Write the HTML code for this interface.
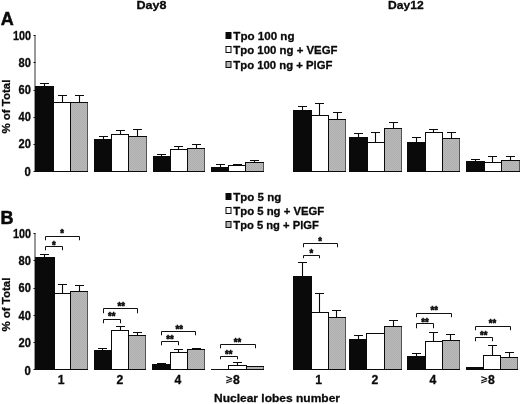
<!DOCTYPE html>
<html lang="en"><head><meta charset="utf-8"><title>Nuclear lobes number</title>
<style>
html,body{margin:0;padding:0;background:#fff}
body{width:520px;height:404px;overflow:hidden}
svg{display:block;will-change:transform}
text{font-family:"Liberation Sans",sans-serif;font-weight:bold;fill:#0a0a0a;stroke:#0a0a0a;stroke-width:.3px;stroke-linejoin:round}
.t{font-size:11.5px}
.p{font-size:18px;stroke-width:.5px}
.n{font-size:12px}
.tk{fill:none;stroke:#111;stroke-width:1}
.q{font-family:"DejaVu Sans","Liberation Sans",sans-serif;font-size:9.5px;stroke:none}
.x{font-size:12.2px}
.s{font-size:10px;text-anchor:middle;stroke-width:.6px}
.m{text-anchor:middle}
.r{text-anchor:end}
.k{fill:#0a0a0a;stroke:#0a0a0a;stroke-width:1}
.w{fill:#fff;stroke:#0a0a0a;stroke-width:1}
.g{fill:url(#ht);stroke:#0a0a0a;stroke-width:1}
.e{fill:none;stroke:#0a0a0a;stroke-width:1.1}
.b{fill:none;stroke:#111;stroke-width:1}
.rb{fill:none;stroke:#555;stroke-width:1}
.a{fill:none;stroke:#333;stroke-width:1}
</style></head><body>
<svg width="520" height="404" viewBox="0 0 520 404">
<defs><pattern id="ht" width="2" height="2" patternUnits="userSpaceOnUse"><rect width="2" height="2" fill="#bbbbbb"/><rect width="1" height="1" fill="#adadad"/><rect x="1" y="1" width="1" height="1" fill="#adadad"/></pattern></defs>
<rect width="520" height="404" fill="#fff"/>
<text class="t" x="136.5" y="9.3" textLength="30" lengthAdjust="spacingAndGlyphs">Day8</text>
<text class="t" x="388" y="9.3" textLength="35.6" lengthAdjust="spacingAndGlyphs">Day12</text>
<text class="p" x="0.8" y="25.2">A</text>
<text class="p" x="0.4" y="223.8">B</text>
<path class="a" d="M35 35.2V171.5"/>
<path class="tk" d="M33.5 35.5H35.5M33.5 62.5H35.5M33.5 90.5H35.5M33.5 117.5H35.5M33.5 144.5H35.5M33.5 171.5H35.5"/>
<text class="n r" x="30.9" y="39.5" textLength="18" lengthAdjust="spacingAndGlyphs">100</text>
<text class="n r" x="30.9" y="66.73" textLength="12.4" lengthAdjust="spacingAndGlyphs">80</text>
<text class="n r" x="30.9" y="93.96" textLength="12.4" lengthAdjust="spacingAndGlyphs">60</text>
<text class="n r" x="30.9" y="121.19" textLength="12.4" lengthAdjust="spacingAndGlyphs">40</text>
<text class="n r" x="30.9" y="148.42" textLength="12.4" lengthAdjust="spacingAndGlyphs">20</text>
<text class="n r" x="30.9" y="175.65" textLength="6.3" lengthAdjust="spacingAndGlyphs">0</text>
<text class="t m" transform="translate(10.3 106.6) rotate(-90)" textLength="54" lengthAdjust="spacingAndGlyphs">% of Total</text>
<path class="a" d="M35 233.2V369.5"/>
<path class="tk" d="M33.5 233.5H35.5M33.5 260.5H35.5M33.5 288.5H35.5M33.5 315.5H35.5M33.5 342.5H35.5M33.5 369.5H35.5"/>
<text class="n r" x="30.9" y="237.7" textLength="18" lengthAdjust="spacingAndGlyphs">100</text>
<text class="n r" x="30.9" y="265.06" textLength="12.4" lengthAdjust="spacingAndGlyphs">80</text>
<text class="n r" x="30.9" y="292.42" textLength="12.4" lengthAdjust="spacingAndGlyphs">60</text>
<text class="n r" x="30.9" y="319.78" textLength="12.4" lengthAdjust="spacingAndGlyphs">40</text>
<text class="n r" x="30.9" y="347.14" textLength="12.4" lengthAdjust="spacingAndGlyphs">20</text>
<text class="n r" x="30.9" y="374.5" textLength="6.3" lengthAdjust="spacingAndGlyphs">0</text>
<text class="t m" transform="translate(10.3 304.6) rotate(-90)" textLength="54" lengthAdjust="spacingAndGlyphs">% of Total</text>
<rect class="k" x="226" y="32.5" width="5" height="6"/>
<text class="t" x="233.3" y="39.5" textLength="61.2" lengthAdjust="spacingAndGlyphs">Tpo 100 ng</text>
<rect class="w" x="226" y="46.5" width="5" height="6"/>
<text class="t" x="233.3" y="54.1" textLength="104.2" lengthAdjust="spacingAndGlyphs">Tpo 100 ng + VEGF</text>
<rect class="g" x="226" y="61.5" width="5" height="6"/>
<text class="t" x="233.3" y="68.7" textLength="99.2" lengthAdjust="spacingAndGlyphs">Tpo 100 ng + PlGF</text>
<rect class="k" x="226" y="193.5" width="5" height="6"/>
<text class="t" x="233.3" y="200.9" textLength="48" lengthAdjust="spacingAndGlyphs">Tpo 5 ng</text>
<rect class="w" x="226" y="207.5" width="5" height="6"/>
<text class="t" x="233.3" y="214.8" textLength="91" lengthAdjust="spacingAndGlyphs">Tpo 5 ng + VEGF</text>
<rect class="g" x="226" y="221.5" width="5" height="6"/>
<text class="t" x="233.3" y="228.7" textLength="85.5" lengthAdjust="spacingAndGlyphs">Tpo 5 ng + PlGF</text>
<path class="e" d="M44.5 86.5V83.5M40 83.5H49"/>
<rect class="k" x="35.5" y="86.5" width="18" height="85"/>
<path class="e" d="M62.5 102.5V95.5M58 95.5H67"/>
<rect class="w" x="53.5" y="102.5" width="17" height="69"/>
<path class="e" d="M79.5 102.5V95.5M75 95.5H84"/>
<rect class="g" x="70.5" y="102.5" width="17" height="69"/>
<path class="rb" d="M87.5 103V171"/>
<path class="e" d="M103.5 139.5V136.5M99 136.5H108"/>
<rect class="k" x="94.5" y="139.5" width="17" height="32"/>
<path class="e" d="M120.5 134.5V130.5M116 130.5H125"/>
<rect class="w" x="111.5" y="134.5" width="17" height="37"/>
<path class="e" d="M137.5 136.5V129.5M133 129.5H142"/>
<rect class="g" x="128.5" y="136.5" width="18" height="35"/>
<path class="rb" d="M146.5 137V171"/>
<path class="e" d="M161.5 156.5V154.5M157 154.5H166"/>
<rect class="k" x="153.5" y="156.5" width="17" height="15"/>
<path class="e" d="M178.5 149.5V146.5M174 146.5H183"/>
<rect class="w" x="170.5" y="149.5" width="17" height="22"/>
<path class="e" d="M196.5 148.5V144.5M192 144.5H201"/>
<rect class="g" x="187.5" y="148.5" width="17" height="23"/>
<path class="rb" d="M204.5 149V171"/>
<path class="e" d="M220.5 167.5V164.5M216 164.5H225"/>
<rect class="k" x="211.5" y="167.5" width="17" height="4"/>
<path class="e" d="M237.5 165.5V164.5M233 164.5H242"/>
<rect class="w" x="228.5" y="165.5" width="17" height="6"/>
<path class="e" d="M254.5 162.5V160.5M250 160.5H259"/>
<rect class="g" x="245.5" y="162.5" width="18" height="9"/>
<path class="rb" d="M263.5 163V171"/>
<path class="e" d="M302.5 110.5V106.5M298 106.5H307"/>
<rect class="k" x="293.5" y="110.5" width="18" height="61"/>
<path class="e" d="M319.5 115.5V103.5M315 103.5H324"/>
<rect class="w" x="311.5" y="115.5" width="17" height="56"/>
<path class="e" d="M337.5 119.5V112.5M333 112.5H342"/>
<rect class="g" x="328.5" y="119.5" width="17" height="52"/>
<path class="rb" d="M345.5 120V171"/>
<path class="e" d="M358.5 137.5V133.5M354 133.5H363"/>
<rect class="k" x="349.5" y="137.5" width="18" height="34"/>
<path class="e" d="M375.5 142.5V132.5M371 132.5H380"/>
<rect class="w" x="367.5" y="142.5" width="17" height="29"/>
<path class="e" d="M393.5 128.5V122.5M389 122.5H398"/>
<rect class="g" x="384.5" y="128.5" width="17" height="43"/>
<path class="rb" d="M401.5 129V171"/>
<path class="e" d="M416.5 142.5V137.5M412 137.5H421"/>
<rect class="k" x="407.5" y="142.5" width="18" height="29"/>
<path class="e" d="M433.5 132.5V129.5M429 129.5H438"/>
<rect class="w" x="425.5" y="132.5" width="17" height="39"/>
<path class="e" d="M451.5 138.5V132.5M447 132.5H456"/>
<rect class="g" x="442.5" y="138.5" width="17" height="33"/>
<path class="rb" d="M459.5 139V171"/>
<path class="e" d="M475.5 161.5V159.5M471 159.5H480"/>
<rect class="k" x="466.5" y="161.5" width="18" height="10"/>
<path class="e" d="M492.5 162.5V156.5M488 156.5H497"/>
<rect class="w" x="484.5" y="162.5" width="17" height="9"/>
<path class="e" d="M510.5 160.5V156.5M506 156.5H515"/>
<rect class="g" x="501.5" y="160.5" width="18" height="11"/>
<path class="rb" d="M519.5 161V171"/>
<path class="e" d="M44.5 257.5V254.5M40 254.5H49"/>
<rect class="k" x="35.5" y="257.5" width="19" height="112"/>
<path class="e" d="M62.5 293.5V284.5M58 284.5H67"/>
<rect class="w" x="54.5" y="293.5" width="16" height="76"/>
<path class="e" d="M79.5 291.5V285.5M75 285.5H84"/>
<rect class="g" x="70.5" y="291.5" width="17" height="78"/>
<path class="rb" d="M87.5 292V369"/>
<path class="e" d="M102.5 350.5V348.5M98 348.5H107"/>
<rect class="k" x="94.5" y="350.5" width="17" height="19"/>
<path class="e" d="M120.5 330.5V326.5M116 326.5H125"/>
<rect class="w" x="111.5" y="330.5" width="17" height="39"/>
<path class="e" d="M137.5 335.5V332.5M133 332.5H142"/>
<rect class="g" x="128.5" y="335.5" width="17" height="34"/>
<path class="rb" d="M145.5 336V369"/>
<path class="e" d="M161.5 364.5V363.5M157 363.5H166"/>
<rect class="k" x="152.5" y="364.5" width="18" height="5"/>
<path class="e" d="M178.5 352.5V349.5M174 349.5H183"/>
<rect class="w" x="170.5" y="352.5" width="17" height="17"/>
<path class="e" d="M196.5 349.5V348.5M192 348.5H201"/>
<rect class="g" x="187.5" y="349.5" width="17" height="20"/>
<path class="rb" d="M204.5 350V369"/>
<path class="b" d="M211 369.5H228.5"/>
<path class="e" d="M237.5 365.5V362.5M233 362.5H242"/>
<rect class="w" x="228.5" y="365.5" width="18" height="4"/>
<rect class="g" x="246.5" y="366.5" width="17" height="3"/>
<path class="rb" d="M263.5 367V369"/>
<path class="e" d="M302.5 276.5V262.5M298 262.5H307"/>
<rect class="k" x="293.5" y="276.5" width="18" height="93"/>
<path class="e" d="M319.5 312.5V293.5M315 293.5H324"/>
<rect class="w" x="311.5" y="312.5" width="17" height="57"/>
<path class="e" d="M336.5 317.5V310.5M332 310.5H341"/>
<rect class="g" x="328.5" y="317.5" width="17" height="52"/>
<path class="rb" d="M345.5 318V369"/>
<path class="e" d="M358.5 339.5V335.5M354 335.5H363"/>
<rect class="k" x="349.5" y="339.5" width="17" height="30"/>
<rect class="w" x="366.5" y="333.5" width="18" height="36"/>
<path class="e" d="M393.5 326.5V320.5M389 320.5H398"/>
<rect class="g" x="384.5" y="326.5" width="17" height="43"/>
<path class="rb" d="M401.5 327V369"/>
<path class="e" d="M416.5 356.5V353.5M412 353.5H421"/>
<rect class="k" x="407.5" y="356.5" width="18" height="13"/>
<path class="e" d="M433.5 341.5V332.5M429 332.5H438"/>
<rect class="w" x="425.5" y="341.5" width="17" height="28"/>
<path class="e" d="M450.5 340.5V334.5M446 334.5H455"/>
<rect class="g" x="442.5" y="340.5" width="17" height="29"/>
<path class="rb" d="M459.5 341V369"/>
<rect class="k" x="466.5" y="367.5" width="17" height="2"/>
<path class="e" d="M492.5 355.5V345.5M488 345.5H497"/>
<rect class="w" x="483.5" y="355.5" width="17" height="14"/>
<path class="e" d="M509.5 357.5V352.5M505 352.5H514"/>
<rect class="g" x="500.5" y="357.5" width="17" height="12"/>
<path class="rb" d="M517.5 358V369"/>
<path class="b" d="M45.5 240.25V236.5H79.5V240.25"/>
<text class="s" x="62" y="236.75" textLength="3.7" lengthAdjust="spacingAndGlyphs">*</text>
<path class="b" d="M45.5 250.25V246.5H62.5V250.25"/>
<text class="s" x="53.75" y="248.5" textLength="3.7" lengthAdjust="spacingAndGlyphs">*</text>
<path class="b" d="M103.5 313.25V308.5H137.5V313.25"/>
<text class="s" x="121.25" y="309.75" textLength="7.4" lengthAdjust="spacingAndGlyphs">**</text>
<path class="b" d="M103.5 323.25V319.5H120.5V323.25"/>
<text class="s" x="111.75" y="320.25" textLength="7.4" lengthAdjust="spacingAndGlyphs">**</text>
<path class="b" d="M161.5 335.25V331.5H195.5V335.25"/>
<text class="s" x="179.25" y="333" textLength="7.4" lengthAdjust="spacingAndGlyphs">**</text>
<path class="b" d="M161.5 345.25V341.5H178.5V345.25"/>
<text class="s" x="170" y="343" textLength="7.4" lengthAdjust="spacingAndGlyphs">**</text>
<path class="b" d="M220.5 348.25V344.5H255.5V348.25"/>
<text class="s" x="237.5" y="345.5" textLength="7.4" lengthAdjust="spacingAndGlyphs">**</text>
<path class="b" d="M220.5 359.25V356.5H237.5V359.25"/>
<text class="s" x="228.75" y="357.9" textLength="7.4" lengthAdjust="spacingAndGlyphs">**</text>
<path class="b" d="M303.5 247.25V243.5H337.5V247.25"/>
<text class="s" x="320" y="244.75" textLength="3.7" lengthAdjust="spacingAndGlyphs">*</text>
<path class="b" d="M303.5 258.25V255.5H319.5V258.25"/>
<text class="s" x="311.25" y="256.75" textLength="3.7" lengthAdjust="spacingAndGlyphs">*</text>
<path class="b" d="M416.5 317.25V313.5H451.5V317.25"/>
<text class="s" x="434.25" y="314" textLength="7.4" lengthAdjust="spacingAndGlyphs">**</text>
<path class="b" d="M416.5 328.25V323.5H433.5V328.25"/>
<text class="s" x="425" y="325.5" textLength="7.4" lengthAdjust="spacingAndGlyphs">**</text>
<path class="b" d="M475.5 330.25V326.5H510.5V330.25"/>
<text class="s" x="492.5" y="327.25" textLength="7.4" lengthAdjust="spacingAndGlyphs">**</text>
<path class="b" d="M475.5 341.25V337.5H492.5V341.25"/>
<text class="s" x="483.75" y="339" textLength="7.4" lengthAdjust="spacingAndGlyphs">**</text>
<text class="x m" x="61.25" y="384.2">1</text>
<text class="x m" x="120" y="384.2">2</text>
<text class="x m" x="178" y="384.2">4</text>
<text class="x m" x="232.5" y="384.2"><tspan class="q" dy="-2.2">⩾</tspan><tspan dy="2.2">8</tspan></text>
<text class="x m" x="318.75" y="384.2">1</text>
<text class="x m" x="375" y="384.2">2</text>
<text class="x m" x="433" y="384.2">4</text>
<text class="x m" x="487.5" y="384.2"><tspan class="q" dy="-2.2">⩾</tspan><tspan dy="2.2">8</tspan></text>
<text class="t" x="214" y="402" textLength="126" lengthAdjust="spacingAndGlyphs">Nuclear lobes number</text>
</svg></body></html>
